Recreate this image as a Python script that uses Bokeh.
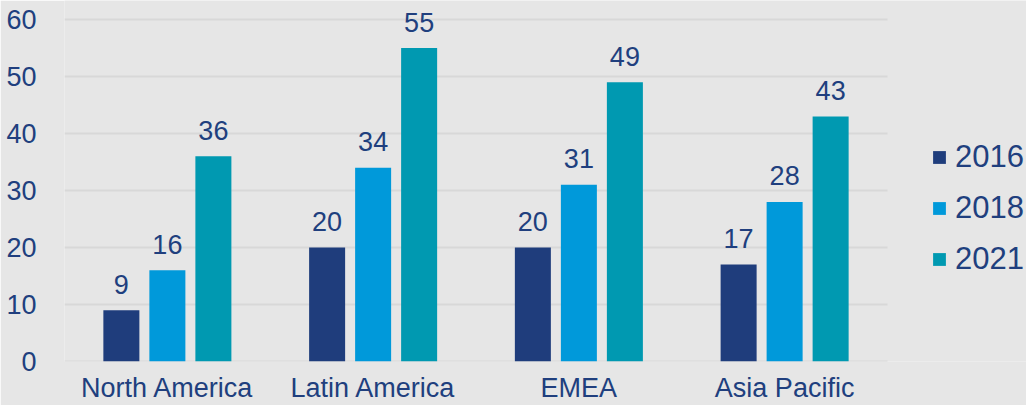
from bokeh.plotting import figure
from bokeh.models import ColumnDataSource, Range1d, Legend, LegendItem, FixedTicker
from bokeh.transform import dodge
from bokeh.core.properties import value
from bokeh.embed import file_html
from bokeh.resources import INLINE

regions = ["North America", "Latin America", "EMEA", "Asia Pacific"]
years = ["2016", "2018", "2021"]
v2016 = [9, 20, 20, 17]
v2018 = [16, 34, 31, 28]
v2021 = [36, 55, 49, 43]
yticks = [0, 10, 20, 30, 40, 50, 60]

colors = ["#1F3D7C", "#0099DA", "#0099B1"]
TEXT = "#203F7E"
BG = "#E6E6E6"
GRID = "#D8D8D8"
FONT = "Liberation Sans"

# category slots 0..4, one unit each; the frame extends past the last slot
# to leave room for the legend on the right
centers = [i + 0.5 for i in range(len(regions))]
n_cat = len(regions)
y_top = yticks[-1]

src = ColumnDataSource(dict(
    xc=centers,
    y2016=v2016, y2018=v2018, y2021=v2021,
    l2016=[str(v) for v in v2016],
    l2018=[str(v) for v in v2018],
    l2021=[str(v) for v in v2021],
))

# frame spans the full height above the axis so value labels are not clipped
p = figure(x_range=Range1d(0, n_cat * 962 / 823), y_range=Range1d(0, y_top * 361 / 342),
           width=1026, height=405, output_backend="svg", toolbar_location=None,
           min_border_left=64, min_border_right=0, min_border_top=0, min_border_bottom=44)
p.background_fill_color = BG
p.border_fill_color = BG
p.outline_line_color = None

# horizontal grid lines across the category area only
p.segment(x0=[0] * len(yticks), x1=[n_cat] * len(yticks), y0=yticks, y1=yticks,
          line_color=GRID, line_width=2)

offsets = [-0.2236, 0.0, 0.2236]
renderers = []
for yr, off, col in zip(years, offsets, colors):
    r = p.vbar(x=dodge("xc", off), top="y" + yr, width=0.175,
               source=src, fill_color=col, line_color=None)
    renderers.append(r)
    p.text(x=dodge("xc", off), y="y" + yr, text="l" + yr, source=src,
           text_align="center", text_baseline="alphabetic", y_offset=-26,
           text_font=value(FONT), text_font_size=value("27px"), text_color=TEXT)

p.xgrid.grid_line_color = None
p.ygrid.grid_line_color = None
p.yaxis.ticker = FixedTicker(ticks=yticks)
p.xaxis.ticker = FixedTicker(ticks=centers)
p.xaxis.major_label_overrides = {c: r for c, r in zip(centers, regions)}

for ax in (p.xaxis, p.yaxis):
    ax.axis_line_color = None
    ax.major_tick_line_color = None
    ax.minor_tick_line_color = None
    ax.major_label_text_font = FONT
    ax.major_label_text_font_size = "27px"
    ax.major_label_text_color = TEXT
p.yaxis.major_label_standoff = 22
p.xaxis.major_label_standoff = 5

legend = Legend(items=[LegendItem(label=y, renderers=[r]) for y, r in zip(years, renderers)],
                location=(867, 84))
legend.background_fill_alpha = 0
legend.border_line_color = None
legend.padding = 0
legend.margin = 0
legend.glyph_width = 16
legend.glyph_height = 16
legend.label_standoff = 8
legend.spacing = 15
legend.label_text_font = FONT
legend.label_text_font_size = "31px"
legend.label_text_color = TEXT
p.add_layout(legend, "center")

open("out.html", "w").write(file_html(p, INLINE))
